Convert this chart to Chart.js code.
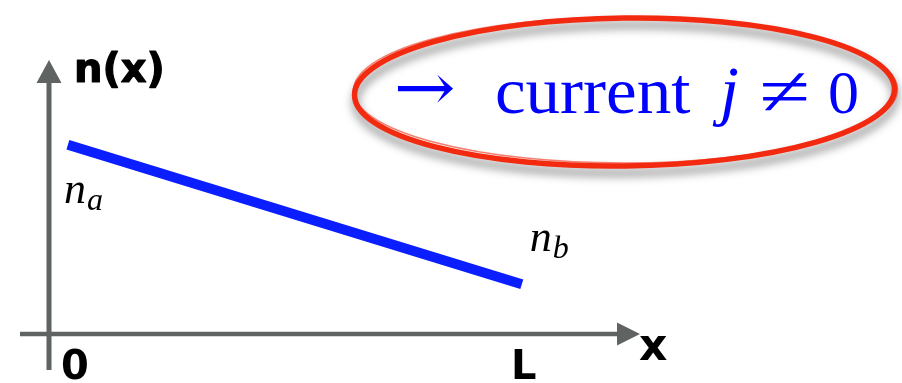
<!DOCTYPE html>
<html><head><meta charset="utf-8">
<script src="https://cdn.jsdelivr.net/npm/chart.js@4/dist/chart.umd.min.js"></script>
<style>html,body{margin:0;padding:0;background:#fff}#w{width:902px;height:383px;position:relative}</style>
</head><body><div id="w"><canvas id="c"></canvas></div>
<script>
// data (units: x in multiples of L, n arbitrary)
const xPositions = [0.04, 1.0];      // start of profile, x = L
const nValues = [3.8, 1.0];          // n_a, n_b
const xTickLabels = ["0", "L"];      // at x = 0 and x = L
const xTickValues = [0, 1];
const axisMax = {x: 1.25, y: 5.5};
const axisTitles = {x: "x", y: "n(x)"};
const endLabels = [["n", "a"], ["n", "b"]];
const noteParts = ["\u2192", "current", "j", "\u2260", "0"];

const GRAY = "#5f6361", BLUE = "#0a1eff";

function fitText(ctx, text, font, x, y, w) {
  ctx.save();
  ctx.font = font;
  const m = ctx.measureText(text);
  const ink = m.actualBoundingBoxLeft + m.actualBoundingBoxRight;
  const sx = w / ink;
  ctx.translate(x, y);
  ctx.scale(sx, 1);
  ctx.fillText(text, m.actualBoundingBoxLeft, 0);
  ctx.restore();
}

const deco = {
  id: "deco",
  beforeDatasetsDraw(chart) {
    const {ctx, scales: {x: xs, y: ys}} = chart;
    const x0 = xs.getPixelForValue(0), y0 = ys.getPixelForValue(0);
    const yTop = ys.getPixelForValue(axisMax.y), xRight = xs.getPixelForValue(axisMax.x);
    ctx.save();
    ctx.strokeStyle = GRAY; ctx.fillStyle = GRAY;
    ctx.lineWidth = 5;
    ctx.beginPath(); ctx.moveTo(x0, 370); ctx.lineTo(x0, yTop + 22); ctx.stroke();
    ctx.beginPath(); ctx.moveTo(x0, yTop); ctx.lineTo(x0 - 12.5, yTop + 23); ctx.lineTo(x0 + 12.5, yTop + 23); ctx.closePath(); ctx.fill();
    ctx.lineWidth = 4.5;
    ctx.beginPath(); ctx.moveTo(20, y0); ctx.lineTo(xRight - 22, y0); ctx.stroke();
    ctx.beginPath(); ctx.moveTo(xRight, y0); ctx.lineTo(xRight - 23, y0 - 11.5); ctx.lineTo(xRight - 23, y0 + 11.5); ctx.closePath(); ctx.fill();
    ctx.restore();
  },
  afterDatasetsDraw(chart) {
    const {ctx, scales: {x: xs, y: ys}} = chart;
    const x0 = xs.getPixelForValue(0), y0 = ys.getPixelForValue(0);
    const yTop = ys.getPixelForValue(axisMax.y), xRight = xs.getPixelForValue(axisMax.x);
    ctx.save();
    ctx.fillStyle = "#000";
    ctx.textBaseline = "alphabetic";
    ctx.textAlign = "left";
    ctx.lineJoin = "round";
    ctx.strokeStyle = "#000"; ctx.lineWidth = 1.2;
    ctx.font = "bold 40px 'DejaVu Sans'";
    ctx.fillText(axisTitles.y, x0 + 25, yTop + 22);
    ctx.strokeText(axisTitles.y, x0 + 25, yTop + 22);
    ctx.font = "bold 44px 'DejaVu Sans'";
    ctx.fillText(axisTitles.x, xRight - 1, y0 + 26);
    ctx.font = "bold 40px 'DejaVu Sans'";
    ctx.textAlign = "center";
    ctx.fillText(xTickLabels[0], xs.getPixelForValue(xTickValues[0]) + 26, y0 + 45);
    ctx.fillText(xTickLabels[1], xs.getPixelForValue(xTickValues[1]) + 2, y0 + 45);
    const drawSub = (lab, px, py) => {
      ctx.textAlign = "left";
      ctx.font = "italic 44px 'Liberation Serif'";
      ctx.fillText(lab[0], px, py);
      const w = ctx.measureText(lab[0]).width;
      ctx.font = "italic 32px 'Liberation Serif'";
      ctx.fillText(lab[1], px + w + 1, py + 7);
    };
    const pa = {x: xs.getPixelForValue(xPositions[0]), y: ys.getPixelForValue(nValues[0])};
    const pb = {x: xs.getPixelForValue(xPositions[1]), y: ys.getPixelForValue(nValues[1])};
    drawSub(endLabels[0], pa.x - 4, pa.y + 58);
    drawSub(endLabels[1], pb.x + 8, pb.y - 33);
    ctx.save();
    ctx.translate(624.5, 92);
    ctx.rotate(-0.012);
    ctx.shadowColor = "rgba(0,0,0,0.5)";
    ctx.shadowBlur = 10; ctx.shadowOffsetY = 7; ctx.shadowOffsetX = 1;
    ctx.strokeStyle = "#f22a10"; ctx.lineWidth = 5.5;
    ctx.beginPath(); ctx.ellipse(0, 0, 270, 74, 0, 0, Math.PI * 2); ctx.stroke();
    ctx.shadowColor = "transparent";
    ctx.lineWidth = 1.5; ctx.strokeStyle = "rgba(242,42,16,0.6)";
    ctx.beginPath(); ctx.ellipse(1, -2, 272, 73, 0.01, 0, Math.PI * 2); ctx.stroke();
    ctx.restore();
    ctx.fillStyle = "#0000ff";
    ctx.textAlign = "left";
    const base = 113;
    fitText(ctx, noteParts[0], "66px 'DejaVu Serif'", 397, base - 3, 56);
    fitText(ctx, noteParts[1], "66px 'Liberation Serif'", 497, base, 193);
    fitText(ctx, noteParts[2], "italic 68px 'Liberation Serif'", 712, base, 26);
    fitText(ctx, noteParts[3], "70px 'Liberation Serif'", 762, base + 2, 45);
    fitText(ctx, noteParts[4], "62px 'Liberation Serif'", 830, base, 27);
    ctx.restore();
  }
};

new Chart(document.getElementById("c"), {
  type: "scatter",
  data: {
    datasets: [{
      data: xPositions.map((x, i) => ({x, y: nValues[i]})),
      showLine: true,
      borderColor: BLUE,
      borderWidth: 10,
      borderCapStyle: "butt",
      pointRadius: 0,
      clip: false
    }]
  },
  options: {
    responsive: true, maintainAspectRatio: false, animation: false,
    layout: {padding: {left: 49, right: 262, top: 60, bottom: 49}},
    plugins: {legend: {display: false}, tooltip: {enabled: false}},
    scales: {
      x: {type: "linear", min: 0, max: axisMax.x, display: false},
      y: {type: "linear", min: 0, max: axisMax.y, display: false}
    }
  },
  plugins: [deco]
});
</script></body></html>
